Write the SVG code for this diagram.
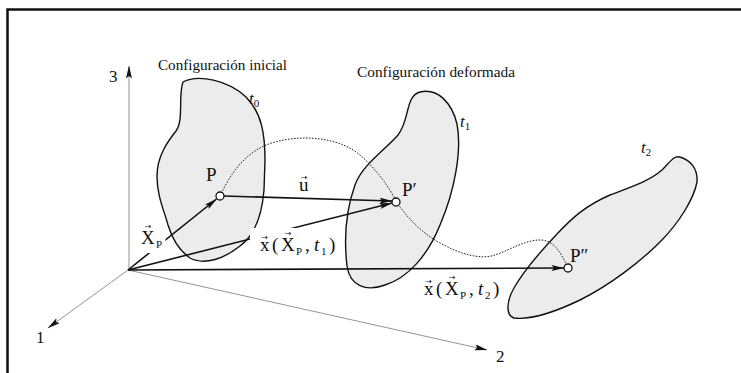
<svg xmlns="http://www.w3.org/2000/svg" width="741" height="373" viewBox="0 0 741 373">
<style>
.frame{fill:none;stroke:#111;stroke-width:2.5}
.blob{fill:#ececec;stroke:#111;stroke-width:1.4;stroke-linejoin:round}
.axis{fill:none;stroke:#888;stroke-width:0.9}
.vec{fill:none;stroke:#111;stroke-width:1.6}
.path{fill:none;stroke:#222;stroke-width:1;stroke-dasharray:1.6 1.4}
.pt{fill:#fff;stroke:#111;stroke-width:1.3}
.t{font-family:"Liberation Serif","DejaVu Serif",serif;fill:#111}
.cap{font-size:14px}
.lab{font-size:19px}
.sub{font-size:11px}
.num{font-size:17px}
.acc{font-family:"DejaVu Sans",sans-serif;font-size:8px;fill:#111;text-anchor:middle}
.mask{fill:#fff}
</style>
<defs>
<marker id="ah" viewBox="0 0 13 6" refX="12.5" refY="3" markerWidth="13" markerHeight="6" markerUnits="userSpaceOnUse" orient="auto">
<path d="M0,0 L13,3 L0,6 L2.5,3 z" fill="#111"/>
</marker>
</defs>
<rect class="frame" x="7.5" y="9.5" width="760" height="380"/>
<g id="axes">
<line class="axis" x1="129" y1="270" x2="129" y2="66" marker-end="url(#ah)"/>
<line class="axis" x1="128" y1="270" x2="48" y2="328" marker-end="url(#ah)"/>
<line class="axis" x1="128" y1="270" x2="487" y2="350" marker-end="url(#ah)"/>
<text class="t num" x="109" y="82">3</text>
<text class="t num" x="36" y="343">1</text>
<text class="t num" x="496" y="362">2</text>
</g>
<g id="config0">
<path class="blob" d="M183,82 C198,74 228,80 246,97 C262,113 265,135 265,160 L264,190 C262,215 255,235 240,246 C225,258 205,266 190,258 C178,250 172,238 168,225 C164,210 157,196 157,176 C157,156 168,141 176,131 C184,120 178,95 183,82 Z"/>
<text class="t cap" x="158" y="70" textLength="129" lengthAdjust="spacingAndGlyphs">Configuración inicial</text>
<text class="t" x="249" y="104" font-size="17" font-style="italic">t<tspan class="sub" font-style="normal" dy="3">0</tspan></text>
</g>
<g id="config1">
<path class="blob" d="M420,92 C438,88 452,103 457,124 C462,150 455,190 440,225 C428,255 408,278 385,285 C366,292 350,286 347,266 C344,240 346,210 355,185 C362,165 385,150 398,135 C410,120 405,96 420,92 Z"/>
<text class="t cap" x="357" y="77" textLength="158" lengthAdjust="spacingAndGlyphs">Configuración deformada</text>
<text class="t" x="460" y="127" font-size="17" font-style="italic">t<tspan class="sub" font-style="normal" dy="3">1</tspan></text>
</g>
<g id="config2">
<path class="blob" d="M680,157 C690,160 698,168 697,182 C694,198 680,222 660,242 C640,262 610,285 580,300 C555,312 530,320 514,318 C505,315 507,300 514,288 C523,272 540,252 557,234 C572,218 585,206 610,195 C630,187 648,182 662,170 C670,162 674,155 680,157 Z"/>
<text class="t" x="641" y="153" font-size="17" font-style="italic">t<tspan class="sub" font-style="normal" dy="3">2</tspan></text>
</g>
<g id="connectors">
<path class="path" d="M220,196 C230,175 245,150 275,142 C305,134 340,138 360,155 C375,168 388,185 396,201 C405,215 420,232 440,243 C460,254 480,260 495,255 C510,250 525,240 540,240 C555,240 562,255 568,268"/>
<line class="vec" x1="128" y1="270" x2="216.5" y2="199" marker-end="url(#ah)"/>
<line class="vec" x1="224" y1="196" x2="392" y2="201" marker-end="url(#ah)"/>
<line class="vec" x1="128" y1="270" x2="392" y2="203" marker-end="url(#ah)"/>
<line class="vec" x1="128" y1="270" x2="564" y2="268" marker-end="url(#ah)"/>
</g>
<g id="points">
<circle class="pt" cx="220" cy="196" r="4"/>
<circle class="pt" cx="396" cy="202" r="4"/>
<circle class="pt" cx="568" cy="268" r="4"/>
<text class="t lab" x="206" y="181">P</text>
<text class="t lab" x="402" y="196">P′</text>
<text class="t lab" x="570" y="262">P″</text>
<text class="t lab" x="299" y="191">u</text>
<text class="acc" x="304" y="179.5">→</text>
</g>
<g id="labels">
<rect class="mask" x="136" y="223" width="29.5" height="30"/>
<text class="t lab" y="244"><tspan x="141">X</tspan><tspan class="sub" x="156" y="248">P</tspan></text>
<text class="acc" x="148" y="229">→</text>
<rect class="mask" x="250" y="228" width="88" height="28"/>
<text class="t lab" y="251"><tspan x="260">x</tspan><tspan x="272">(</tspan><tspan x="281">X</tspan><tspan class="sub" x="296" y="255">P</tspan><tspan x="305" y="251">,</tspan><tspan x="314" font-style="italic">t</tspan><tspan class="sub" x="321" y="255">1</tspan><tspan x="329" y="251">)</tspan></text>
<text class="acc" x="264.5" y="240">→</text>
<text class="acc" x="288" y="236">→</text>
<text class="t lab" y="295"><tspan x="424">x</tspan><tspan x="436">(</tspan><tspan x="445">X</tspan><tspan class="sub" x="460" y="299">P</tspan><tspan x="469" y="295">,</tspan><tspan x="478" font-style="italic">t</tspan><tspan class="sub" x="485" y="299">2</tspan><tspan x="493" y="295">)</tspan></text>
<text class="acc" x="428.5" y="284">→</text>
<text class="acc" x="452" y="280">→</text>
</g>
</svg>
